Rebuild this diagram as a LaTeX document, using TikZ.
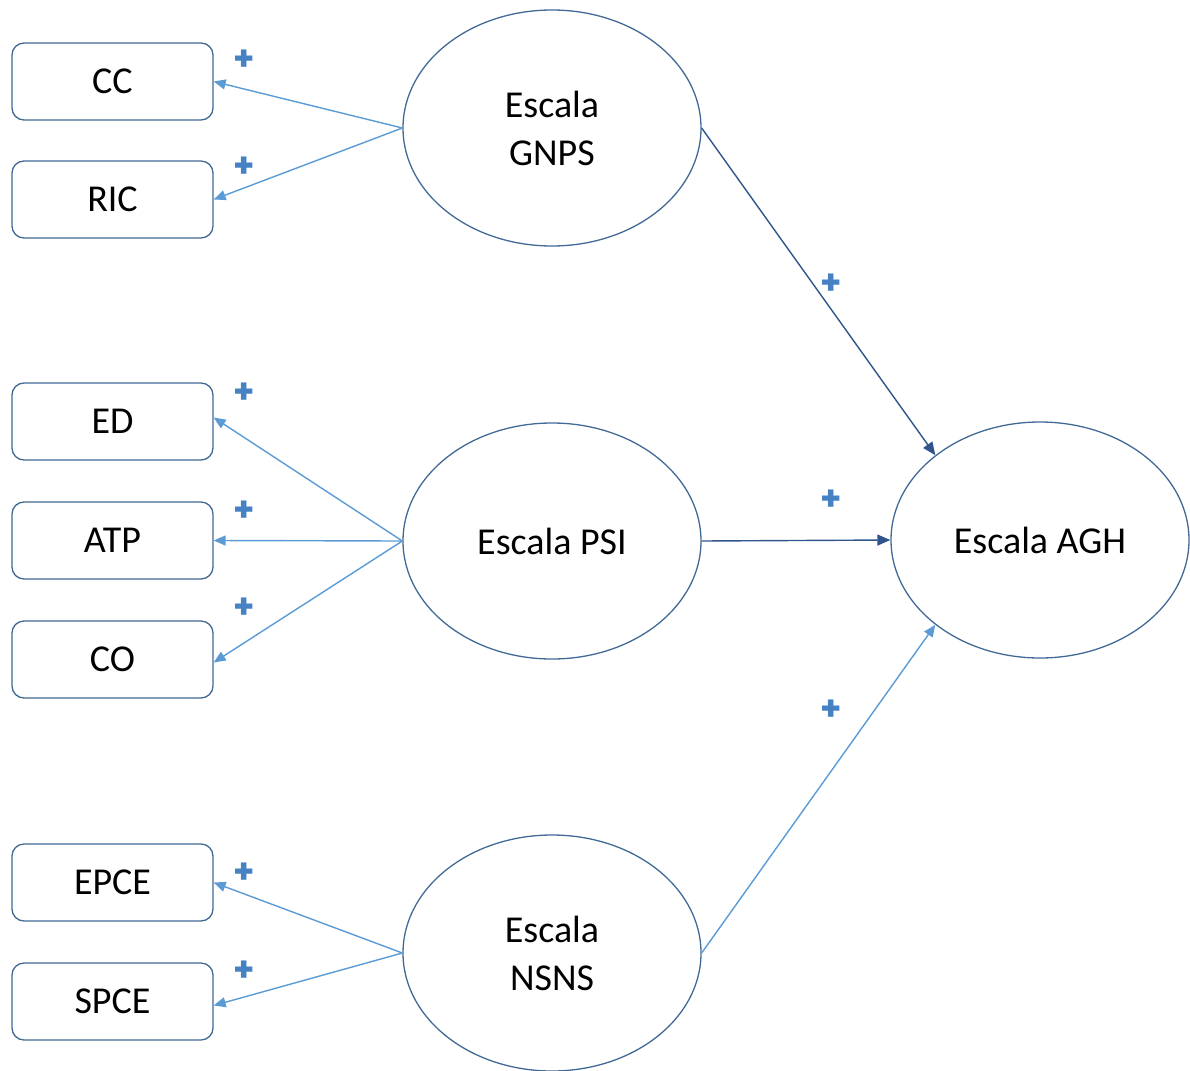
\documentclass[tikz,border=0pt]{standalone}
\usepackage{fontspec}
\setmainfont{Carlito}
\newfontfamily\plusfont{Poppins}
\usetikzlibrary{arrows.meta,shapes.geometric}
\definecolor{edge}{RGB}{65,105,150}
\definecolor{light}{RGB}{91,155,213}
\definecolor{dark}{RGB}{47,85,140}
\definecolor{plusc}{RGB}{70,130,195}
\begin{document}
\begin{tikzpicture}[x=1pt,y=-1pt,
  box/.style={draw=edge,line width=1.3pt,rounded corners=12pt,minimum width=201pt,minimum height=77pt,inner sep=0pt,font=\fontsize{38}{44}\selectfont},
  lat/.style={draw=edge,line width=1.3pt,ellipse,minimum width=298pt,minimum height=236pt,inner sep=0pt,align=center,font=\fontsize{38}{48}\selectfont},
  larrow/.style={draw=light,line width=1.4pt,-{Triangle[length=12pt,width=10pt]}},
  darrow/.style={draw=dark,line width=1.4pt,-{Triangle[length=13pt,width=11pt]}},
  plus/.style={text=plusc,font=\plusfont\bfseries\fontsize{34}{34}\selectfont,inner sep=0pt}]
\useasboundingbox (0,0) rectangle (1190,1070);
% boxes
\node[box] (cc) at (112.5,81.5) {CC};
\node[box] (ric) at (112.5,199.5) {RIC};
\node[box] (ed) at (112.5,421.5) {ED};
\node[box] (atp) at (112.5,540.5) {ATP};
\node[box] (co) at (112.5,659.5) {CO};
\node[box] (epce) at (112.5,882.5) {EPCE};
\node[box] (spce) at (112.5,1001.5) {SPCE};
% latent
\node[lat] (gnps) at (552,128) {Escala\\GNPS};
\node[lat] (psi) at (552,541) {Escala PSI};
\node[lat] (nsns) at (552,953) {Escala\\NSNS};
\node[lat] (agh) at (1040,540) {Escala AGH};
% connectors
\draw[larrow] (gnps.west) -- (cc.east);
\draw[larrow] (gnps.west) -- (ric.east);
\draw[larrow] (psi.west) -- ([yshift=4pt]ed.east);
\draw[larrow] (psi.west) -- (atp.east);
\draw[larrow] (psi.west) -- ([yshift=-3pt]co.east);
\draw[larrow] (nsns.west) -- (epce.east);
\draw[larrow] (nsns.west) -- ([yshift=-4pt]spce.east);
\draw[darrow] (gnps.east) -- (agh.141);
\draw[darrow] (psi.east) -- (agh.west);
\draw[larrow] (nsns.east) -- (agh.219);
% plus signs
\foreach \n/\px/\py in {p1/244/60,p2/244/167,p3/244/393,p4/244/511,p5/244/608,p6/244/873,p7/244/971,p8/831/284,p9/831/500,p10/831/710}
  \node[plus] (\n) at (\px,\py) {+};
\end{tikzpicture}
\end{document}
